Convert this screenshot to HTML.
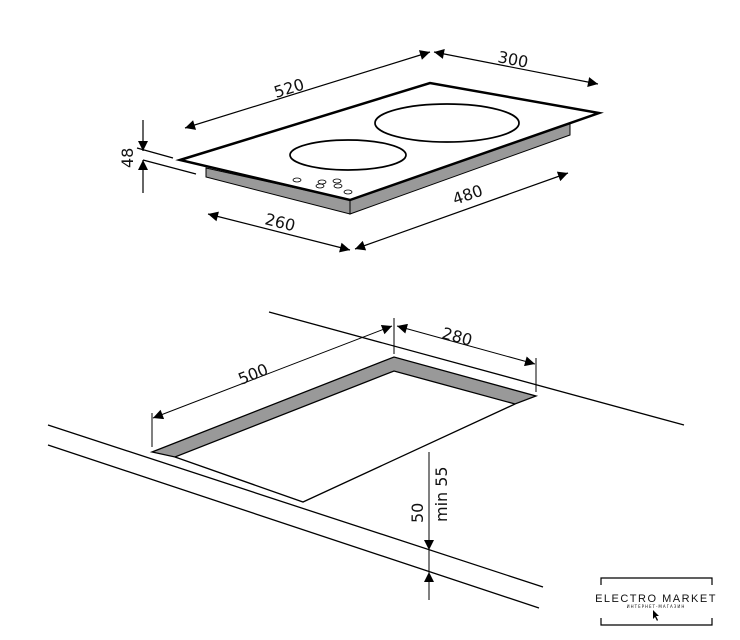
<!DOCTYPE html>
<html><head><meta charset="utf-8"><style>body{margin:0;background:#fff}svg{display:block}text{font-family:"DejaVu Sans","Liberation Sans",sans-serif;fill:#111}</style></head><body>
<svg width="740" height="640" viewBox="0 0 740 640" xmlns="http://www.w3.org/2000/svg">
<defs><marker id="a" viewBox="0 0 10 10" refX="10" refY="5" markerWidth="17" markerHeight="10" markerUnits="userSpaceOnUse" orient="auto-start-reverse"><path d="M0,0L10,5L0,10z" fill="#000"/></marker></defs>
<g stroke="#000" fill="none">
<polygon points="206,168 350,200 350,214 206,177" fill="#999" stroke-width="1"/>
<polygon points="350,200 570,123 570,135 350,214" fill="#999" stroke-width="1"/>
<polygon points="180,160 430,83 599,113 350,200" fill="#fff" stroke-width="2.5"/>
<ellipse cx="447" cy="123" rx="72" ry="19" stroke-width="1.7"/>
<ellipse cx="348" cy="155" rx="58" ry="15" stroke-width="1.7"/>
<g stroke-width="0.8"><ellipse cx="297" cy="180" rx="4" ry="2"/><ellipse cx="322" cy="182" rx="4" ry="2"/><ellipse cx="337" cy="181" rx="4" ry="2"/><ellipse cx="320" cy="186" rx="4" ry="2"/><ellipse cx="338" cy="186" rx="4" ry="2"/><ellipse cx="348" cy="192" rx="4" ry="2"/></g>
<g stroke-width="1.2">
<line x1="185" y1="128" x2="430" y2="52" marker-start="url(#a)" marker-end="url(#a)"/>
<line x1="434" y1="52" x2="598" y2="84" marker-start="url(#a)" marker-end="url(#a)"/>
<line x1="355" y1="249" x2="568" y2="173" marker-start="url(#a)" marker-end="url(#a)"/>
<line x1="208" y1="214" x2="350" y2="250" marker-start="url(#a)" marker-end="url(#a)"/>
<line x1="143" y1="120" x2="143" y2="151" marker-end="url(#a)"/>
<line x1="143" y1="193" x2="143" y2="160" marker-end="url(#a)"/>
<line x1="137" y1="148" x2="173" y2="158"/><line x1="143" y1="160" x2="196" y2="174"/>
</g>
<g stroke-width="1.3">
<line x1="269" y1="312" x2="684" y2="425"/>
<line x1="48" y1="425" x2="543" y2="587"/>
<line x1="48" y1="445" x2="539" y2="608"/>
<polygon points="152,452 394,357 536,396 515,404 394,371 175,457" fill="#999"/>
<polyline points="175,457 303,502 515,404"/>
</g>
<g stroke-width="1">
<line x1="152" y1="413" x2="152" y2="447"/><line x1="394" y1="318" x2="394" y2="354"/><line x1="536" y1="358" x2="536" y2="392"/>
<line x1="153" y1="418" x2="392" y2="326" marker-start="url(#a)" marker-end="url(#a)"/>
<line x1="397" y1="326" x2="535" y2="364" marker-start="url(#a)" marker-end="url(#a)"/>
<line x1="429" y1="452" x2="429" y2="550" marker-end="url(#a)"/>
<line x1="429" y1="600" x2="429" y2="572" marker-end="url(#a)"/>
<line x1="429" y1="550" x2="429" y2="572"/>
</g>
<g stroke-width="1.2"><polyline points="601,585 601,578 712,578 712,585"/><polyline points="601,618 601,625 712,625 712,618"/></g>
</g>
<text x="276" y="98" font-size="16" transform="rotate(-17 276 98)">520</text>
<text x="497" y="62" font-size="16" transform="rotate(11 497 62)">300</text>
<text x="455" y="205" font-size="16" transform="rotate(-19 455 205)">480</text>
<text x="264" y="224" font-size="16" transform="rotate(14 264 224)">260</text>
<text x="133" y="168" font-size="16" transform="rotate(-90 133 168)">48</text>
<text x="241" y="385" font-size="16" transform="rotate(-22 241 385)">500</text>
<text x="441" y="338" font-size="16" transform="rotate(15 441 338)">280</text>
<text x="423" y="523" font-size="16" transform="rotate(-90 423 523)">50</text>
<text x="447" y="522" font-size="16" transform="rotate(-90 447 522)">min 55</text>
<text x="656" y="602" font-size="11" text-anchor="middle" letter-spacing="1.5" style="font-family:'Liberation Sans',sans-serif">ELECTRO MARKET</text>
<text x="656" y="608" font-size="4" text-anchor="middle" letter-spacing="1">ИНТЕРНЕТ-МАГАЗИН</text>
<path d="M653,610 L653,619 L655,617 L657,621 L658,620 L656,616 L659,616 Z" fill="#000"/>
</svg>
</body></html>
